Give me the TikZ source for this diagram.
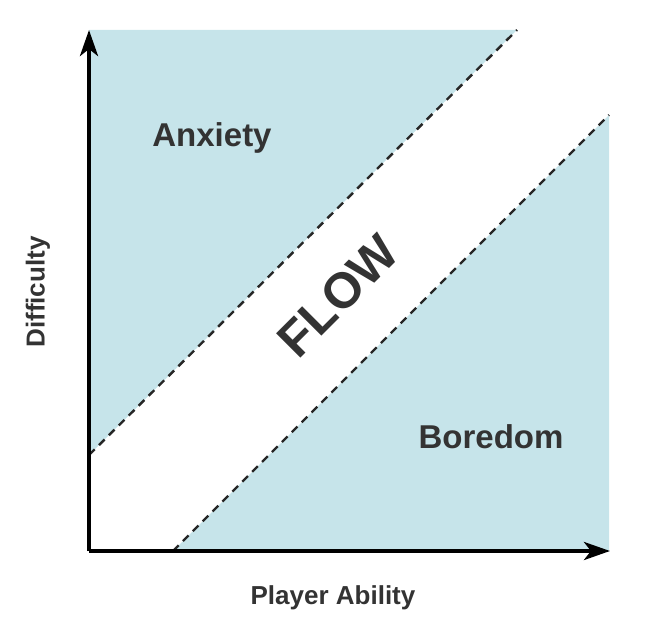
\documentclass[tikz,border=0pt]{standalone}
\usepackage{fontspec}
\setmainfont{Liberation Sans}
\usetikzlibrary{arrows.meta}
\definecolor{zoneblue}{HTML}{C6E4EA}
\definecolor{inkgray}{HTML}{333333}
\tikzset{
  zone/.style={
    fill=zoneblue,
    draw=none
  },
  bound/.style={
    dashed,
    dash pattern=on 8pt off 6pt,
    line width=2.4pt,
    draw=black!85
  },
  axis/.style={
    -{Stealth[length=26pt,width=18pt,inset=7pt]},
    line width=4pt,
    line join=miter
  },
  region/.style={
    font=\bfseries\fontsize{33}{36}\selectfont,
    text=inkgray
  },
  axislabel/.style={
    font=\bfseries\fontsize{26}{30}\selectfont,
    text=inkgray
  }
}

\begin{document}
\begin{tikzpicture}[x=1pt,y=1pt]
  \useasboundingbox (0,0) rectangle (652,632);

  % corners of the chart
  \coordinate (origin) at (89,81);
  \coordinate (ytop) at (89,602);
  \coordinate (xend) at (610,81);

  % where the dashed lines meet the frame
  \coordinate (hiA) at (89,177);
  \coordinate (hiB) at (517,602);
  \coordinate (loA) at (173,81);
  \coordinate (loB) at (609,517);

  % shaded zones
  \fill[zone] (hiA) -- (ytop) -- (hiB) -- cycle;
  \fill[zone] (loA) -- (loB) -- (609,81) -- cycle;

  \draw[bound] (hiA) -- (hiB);
  \draw[bound] (loA) -- (loB);

  % axes
  \draw[axis] (origin) -- (ytop);
  \draw[axis] (origin) -- (xend);

  \node[region] (anxiety) at (212,494) {Anxiety};
  \node[region] (boredom) at (491,195) {Boredom};
  \node[region, font=\bfseries\fontsize{50}{54}\selectfont, rotate=45] (flow) at (338,336) {FLOW};

  \node[axislabel, rotate=90] (ylab) at (38,340) {Difficulty};
  \node[axislabel] (xlab) at (333,34) {Player Ability};
\end{tikzpicture}
\end{document}
